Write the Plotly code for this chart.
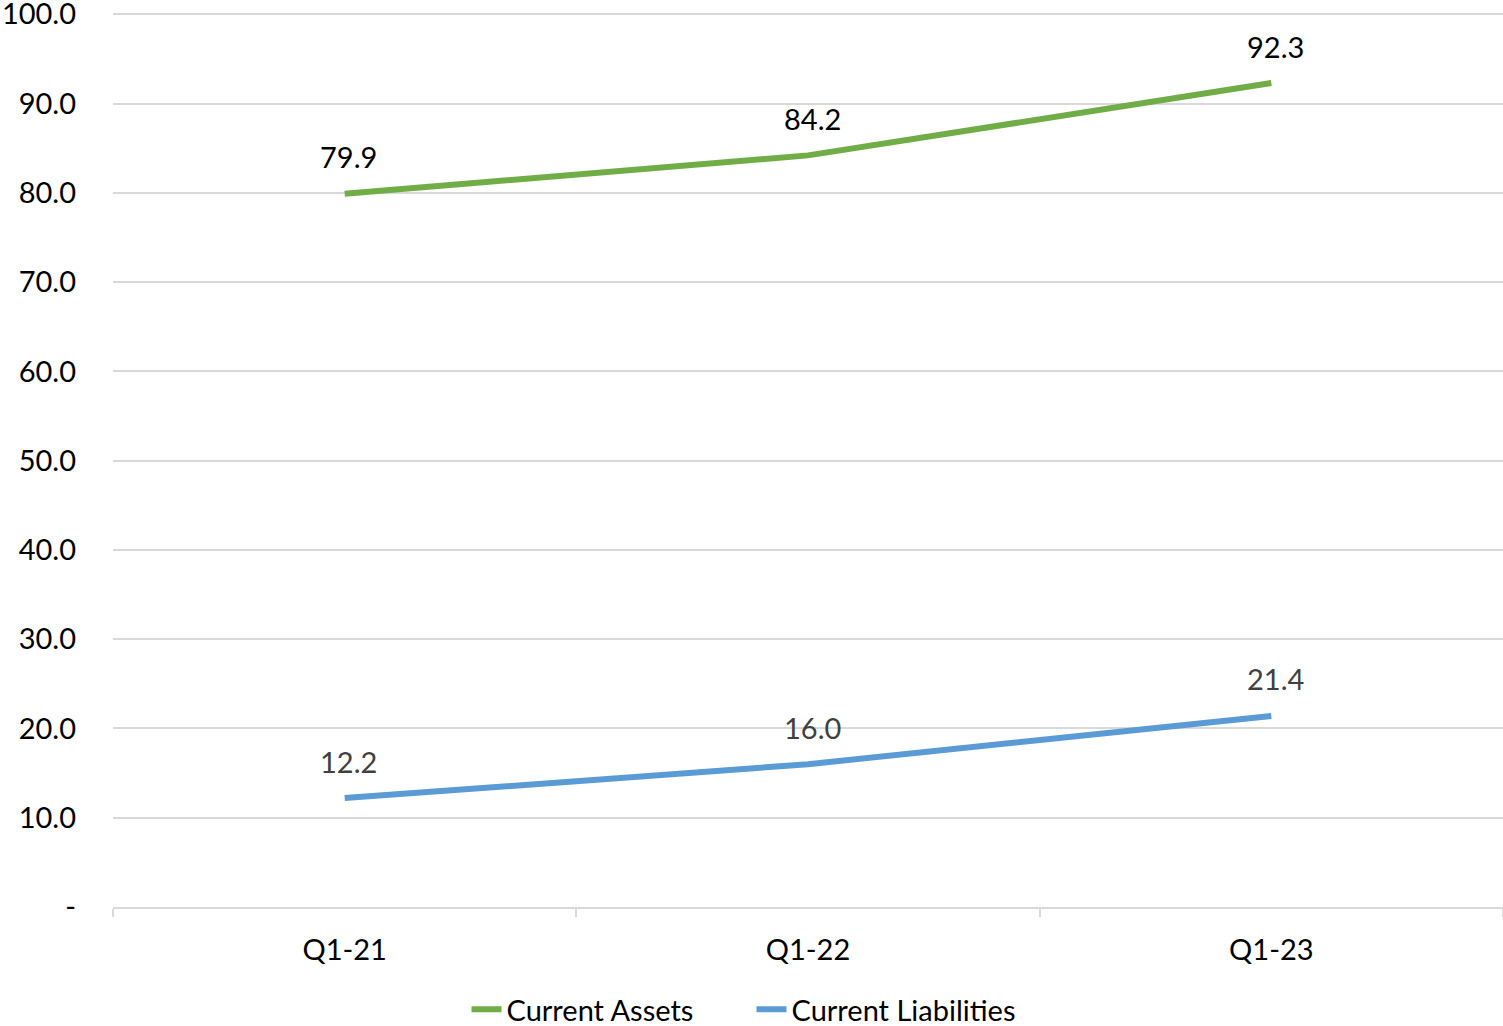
import plotly.graph_objects as go

categories = ["Q1-21", "Q1-22", "Q1-23"]
current_assets = [79.9, 84.2, 92.3]
current_liabilities = [12.2, 16.0, 21.4]
y_tick_values = [0, 10, 20, 30, 40, 50, 60, 70, 80, 90, 100]
y_tick_labels = ["-", "10.0", "20.0", "30.0", "40.0", "50.0", "60.0", "70.0", "80.0", "90.0", "100.0"]

FONT = "Lato, Carlito, Calibri, sans-serif"
FS = 29
GREEN = "#70AD47"
BLUE = "#5B9BD5"

fig = go.Figure()
fig.add_trace(go.Scatter(x=categories, y=current_assets, mode="lines", name="Current Assets",
                         line=dict(color=GREEN, width=6)))
fig.add_trace(go.Scatter(x=categories, y=current_liabilities, mode="lines", name="Current Liabilities",
                         line=dict(color=BLUE, width=6)))

for c, v in zip(categories, current_assets):
    fig.add_annotation(x=c, y=v, text=f"{v:.1f}", showarrow=False, yshift=37, xshift=4,
                       font=dict(family=FONT, size=FS, color="#000000"))
for c, v in zip(categories, current_liabilities):
    fig.add_annotation(x=c, y=v, text=f"{v:.1f}", showarrow=False, yshift=37, xshift=4,
                       font=dict(family=FONT, size=FS, color="#404040"))

fig.update_layout(
    width=1503, height=1026,
    margin=dict(l=113, r=0, t=13, b=119, autoexpand=False),
    paper_bgcolor="white", plot_bgcolor="white",
    font=dict(family=FONT, size=FS, color="#000000"),
    showlegend=True,
    legend=dict(orientation="h", xref="container", x=0.5, xanchor="center", y=-0.086, yanchor="top",
                font=dict(family=FONT, size=FS, color="#000000"), itemwidth=30,
                entrywidth=240, entrywidthmode="pixels"),
)
fig.update_xaxes(type="category", tickson="boundaries", ticks="outside", ticklen=8,
                 tickcolor="#D9D9D9", tickwidth=2, showline=True, linecolor="#D9D9D9", linewidth=2,
                 showgrid=False, ticklabelstandoff=16, range=[-0.5, 2.5], automargin=False,
                 tickfont=dict(family=FONT, size=FS, color="#000000"))
fig.update_yaxes(range=[0, 100.15], tickvals=y_tick_values, ticktext=y_tick_labels,
                 showgrid=True, gridcolor="#D9D9D9", gridwidth=2, zeroline=False,
                 ticks="", ticklabelstandoff=36, ticklabeloverflow="allow", automargin=False,
                 tickfont=dict(family=FONT, size=FS, color="#000000"))

fig.write_html("out.html")
